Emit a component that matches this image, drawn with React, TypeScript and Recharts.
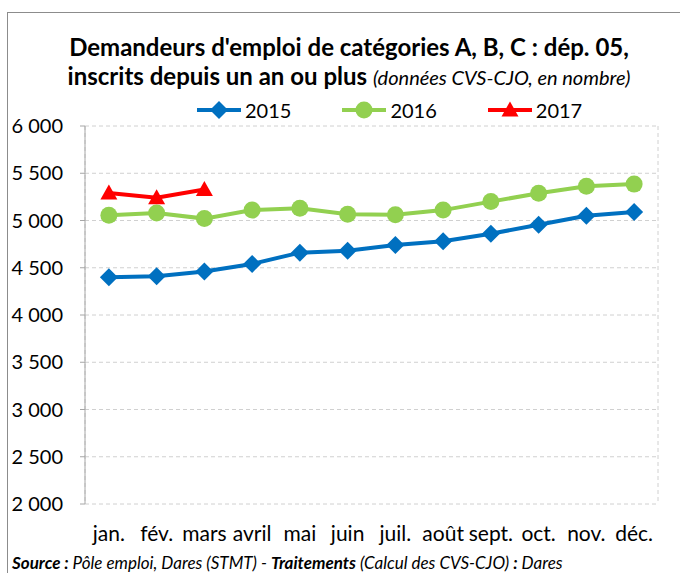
import React from 'react';
import { LineChart, Line, XAxis, YAxis, CartesianGrid } from 'recharts';

const MONTHS = ['jan.', 'fév.', 'mars', 'avril', 'mai', 'juin', 'juil.', 'août', 'sept.', 'oct.', 'nov.', 'déc.'];
const Y2015 = [4400, 4410, 4460, 4540, 4660, 4680, 4740, 4780, 4860, 4955, 5050, 5090];
const Y2016 = [5055, 5080, 5020, 5110, 5130, 5065, 5060, 5110, 5200, 5288, 5362, 5385];
const Y2017 = [5290, 5240, 5328];
const Y_TICKS = [2000, 2500, 3000, 3500, 4000, 4500, 5000, 5500, 6000];
const BOUNDS = [0, 1, 2, 3, 4, 5, 6, 7, 8, 9, 10, 11, 12];

const SERIES = [
  { key: 'y2015', name: '2015', color: '#0070C0', shape: 'diamond' },
  { key: 'y2016', name: '2016', color: '#92D050', shape: 'circle' },
  { key: 'y2017', name: '2017', color: '#FF0000', shape: 'triangle' },
];

const FONT = 'Lato, "Noto Sans", sans-serif';

// une ligne par mois, x au centre de la catégorie
const data = MONTHS.map((m, i) => ({
  x: i + 0.5,
  month: m,
  y2015: Y2015[i],
  y2016: Y2016[i],
  y2017: i < Y2017.length ? Y2017[i] : null,
}));

const fmt = (v: number) => String(v).replace(/\B(?=(\d{3})+(?!\d))/g, ' ');

const Marker = ({ shape, color, cx, cy }: any) => {
  if (cx == null || cy == null) return null;
  if (shape === 'diamond') {
    const s = 9;
    return <polygon points={`${cx},${cy - s} ${cx + s},${cy} ${cx},${cy + s} ${cx - s},${cy}`} fill={color} />;
  }
  if (shape === 'circle') return <circle cx={cx} cy={cy} r={8.5} fill={color} />;
  const s = 8.5;
  return <polygon points={`${cx},${cy - s} ${cx + s},${cy + s * 0.75} ${cx - s},${cy + s * 0.75}`} fill={color} />;
};

const LegendBox = () => (
  <div style={{ position: 'absolute', left: 196, top: 98, display: 'flex', fontFamily: FONT, fontSize: 20, lineHeight: '24px', color: '#000' }}>
    {SERIES.map((s, i) => (
      <div key={s.key} style={{ display: 'flex', alignItems: 'center', marginLeft: i === 0 ? 0 : 50 }}>
        <svg width={46} height={20} style={{ marginRight: 3 }}>
          <line x1={1} y1={10} x2={45} y2={10} stroke={s.color} strokeWidth={4} />
          <Marker shape={s.shape} color={s.color} cx={23} cy={10} />
        </svg>
        <span>{s.name}</span>
      </div>
    ))}
  </div>
);

export default function App() {
  return (
    <div style={{ position: 'absolute', left: 0, top: 0, width: 680, height: 573, background: '#fff', overflow: 'hidden' }}>
      <div style={{ position: 'absolute', left: 7, top: 12, width: 690, height: 600, border: '1px solid #8c8c8c' }} />
      <div style={{ position: 'absolute', left: 0, top: 32, width: 698, textAlign: 'center', fontFamily: FONT, fontWeight: 'bold', fontSize: 24, lineHeight: '29px', color: '#000', whiteSpace: 'nowrap' }}>
        Demandeurs d'emploi de catégories A, B, C : dép. 05,
        <br />
        inscrits depuis un an ou plus{' '}
        <span style={{ fontWeight: 'normal', fontStyle: 'italic', fontSize: 20 }}>(données CVS-CJO, en nombre)</span>
      </div>
      <LegendBox />
      <div style={{ position: 'absolute', left: 0, top: 0 }}>
        <LineChart width={680} height={573} data={data} margin={{ top: 126, right: 22, bottom: 29, left: 0 }}>
          <CartesianGrid xAxisId="g" stroke="#d0d0d0" strokeDasharray="4 3" />
          <XAxis
            xAxisId="g"
            dataKey="x"
            type="number"
            domain={[0, 12]}
            ticks={BOUNDS}
            tick={false}
            tickSize={6}
            height={0}
            axisLine={{ stroke: '#a6a6a6' }}
            tickLine={{ stroke: '#a6a6a6' }}
          />
          <XAxis
            xAxisId="m"
            dataKey="x"
            type="number"
            domain={[0, 12]}
            ticks={MONTHS.map((_, i) => i + 0.5)}
            tickFormatter={(v: number) => MONTHS[Math.floor(v)]}
            axisLine={false}
            tickLine={false}
            height={40}
            tickMargin={16}
            interval={0}
            tick={{ fontFamily: FONT, fontSize: 21, fill: '#000' }}
          />
          <YAxis
            domain={[2000, 6000]}
            ticks={Y_TICKS}
            tickFormatter={fmt}
            width={85}
            tickSize={5}
            tickMargin={17}
            axisLine={{ stroke: '#a6a6a6' }}
            tickLine={{ stroke: '#a6a6a6' }}
            tick={{ fontFamily: FONT, fontSize: 20, fill: '#000' }}
          />
          {SERIES.map((s) => (
            <Line
              key={s.key}
              xAxisId="g"
              dataKey={s.key}
              name={s.name}
              stroke={s.color}
              strokeWidth={4}
              dot={(p: any) => <Marker key={`${s.key}-${p.index}`} shape={s.shape} color={s.color} cx={p.cx} cy={p.cy} />}
              activeDot={false}
              connectNulls={false}
              isAnimationActive={false}
            />
          ))}
        </LineChart>
      </div>
      <div style={{ position: 'absolute', left: 12, top: 553, fontFamily: FONT, fontStyle: 'italic', fontSize: 17, lineHeight: '20px', color: '#000', whiteSpace: 'nowrap' }}>
        <b>Source :</b> Pôle emploi, Dares (STMT) - <b>Traitements</b> (Calcul des CVS-CJO) <b>:</b> Dares
      </div>
    </div>
  );
}
